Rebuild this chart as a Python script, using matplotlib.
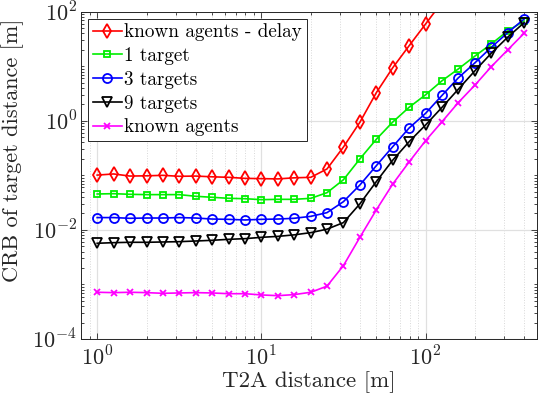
import numpy as np
import matplotlib
matplotlib.use("Agg")
import matplotlib.pyplot as plt

plt.rcParams['font.family'] = ['cmr10', 'DejaVu Serif']
plt.rcParams['mathtext.fontset'] = 'cm'
plt.rcParams['axes.unicode_minus'] = False

# T2A distance [m]
dist = [1, 1.26, 1.58, 2.0, 2.51, 3.16, 3.98, 5.01, 6.31, 7.94,
        10, 12.6, 15.8, 20, 25.1, 31.6, 39.8, 50.1, 63.1, 79.4,
        100, 126, 158, 200, 251, 316, 398]

# CRB of target distance [m]
crb_delay = [0.101, 0.106, 0.097, 0.098, 0.100, 0.096, 0.097, 0.094, 0.092, 0.088,
             0.087, 0.086, 0.090, 0.092, 0.131, 0.33, 0.94, 3.27, 9.4, 23.8,
             59.5, 150]
crb_1 = [0.0455, 0.0461, 0.0449, 0.0443, 0.0443, 0.0443, 0.0413, 0.0396, 0.0379, 0.0373,
         0.0358, 0.0363, 0.0363, 0.0379, 0.0481, 0.083, 0.20, 0.458, 0.95, 1.77,
         3.0, 5.43, 8.9, 15.4, 25.6, 44.3, 67.6]
crb_3 = [0.0168, 0.0168, 0.0163, 0.0165, 0.0165, 0.0168, 0.0165, 0.0158, 0.0156, 0.0152,
         0.0156, 0.0158, 0.0163, 0.0177, 0.0207, 0.0329, 0.0665, 0.150, 0.335, 0.738,
         1.37, 2.93, 6.1, 11.6, 22.2, 41.2, 73.5]
crb_9 = [0.00568, 0.00583, 0.00592, 0.00592, 0.0060, 0.00608, 0.00625, 0.00644, 0.00671, 0.0069,
         0.0073, 0.0076, 0.0081, 0.0089, 0.0103, 0.0136, 0.030, 0.0766, 0.19, 0.414,
         0.838, 1.77, 3.78, 8.3, 17.3, 34.0, 63.0]
crb_known = [7.18e-4, 7.07e-4, 7.18e-4, 7.07e-4, 6.87e-4, 6.97e-4, 7.07e-4, 6.97e-4, 6.76e-4, 6.76e-4,
             6.41e-4, 6.22e-4, 6.5e-4, 7.18e-4, 9.3e-4, 2.21e-3, 7.3e-3, 0.0232, 0.0693, 0.176,
             0.432, 0.964, 2.15, 4.53, 9.8, 19.9, 40.2]

series = [
    ('known agents - delay', crb_delay, '#ff0000', 'd', 7.0),
    ('1 target', crb_1, '#00ee00', 's', 5.0),
    ('3 targets', crb_3, '#0000ff', 'o', 6.5),
    ('9 targets', crb_9, '#000000', 'v', 6.5),
    ('known agents', crb_known, '#ff00ff', 'x', 5.0),
]

fig = plt.figure(figsize=(5.38, 4.04), dpi=100)
ax = fig.add_axes([0.151, 0.161, 0.8466, 0.81])

for label, y, c, m, ms in series:
    ax.loglog(dist[:len(y)], y, color=c, marker=m, markersize=ms, markerfacecolor='none',
              markeredgewidth=1.3, linewidth=1.2, label=label)

ax.set_xlim(0.8, 475)
ax.set_ylim(1e-4, 1e2)

ax.set_xticks([1, 10, 100], [r'$10^{0}$', r'$10^{1}$', r'$10^{2}$'])
ax.set_yticks([1e-4, 1e-2, 1, 1e2], [r'$10^{-4}$', r'$10^{-2}$', r'$10^{0}$', r'$10^{2}$'])
xminor = [m * 10.0 ** e for e in range(-1, 3) for m in range(2, 10) if 0.8 <= m * 10.0 ** e <= 475]
yminor = [m * 10.0 ** e for e in range(-4, 2) for m in range(1, 10) if m * 10.0 ** e not in (1e-4, 1e-2, 1, 1e2)]
ax.set_xticks(xminor, minor=True)
ax.set_yticks(yminor, minor=True)
ax.set_xticklabels([], minor=True)
ax.set_yticklabels([], minor=True)

ax.tick_params(which='both', direction='in', top=True, right=True, colors='#262626',
               labelsize=16, width=0.6)
ax.tick_params(which='major', length=4)
ax.tick_params(which='minor', length=2.5)
ax.tick_params(axis='x', pad=5)
ax.tick_params(axis='y', pad=3)

ax.grid(True, which='major', color='#e0e0e0', linewidth=0.9)
ax.grid(True, which='minor', axis='x', color='#d8d8d8', linestyle=':', linewidth=0.7)
ax.set_axisbelow(True)
for s in ax.spines.values():
    s.set_color('#262626')
    s.set_linewidth(0.7)

ax.set_xlabel('T2A distance [m]', fontsize=16.5, color='#262626', labelpad=1)
ax.set_ylabel('CRB of target distance [m]', fontsize=16, color='#262626', labelpad=2)
ax.yaxis.set_label_coords(-0.125, 0.575)

leg = ax.legend(loc='upper left', fontsize=13.8, frameon=True, fancybox=False,
                edgecolor='#262626', framealpha=1, borderpad=0.25, labelspacing=0.3,
                handlelength=1.5, handletextpad=0.12, borderaxespad=0.36)
leg.get_frame().set_linewidth(0.7)

fig.savefig('out.png', dpi=100)
